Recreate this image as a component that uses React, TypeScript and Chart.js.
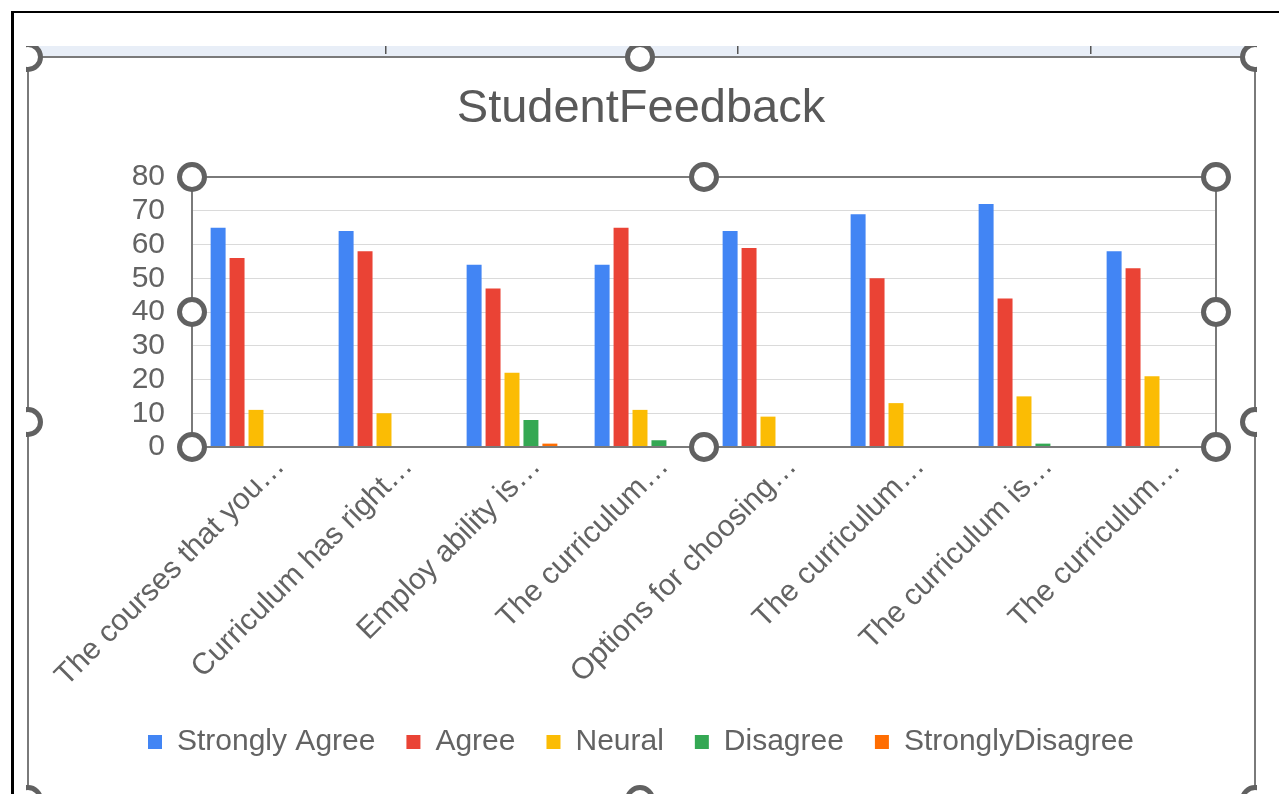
import React, { useEffect, useRef } from 'react';
import { Chart, registerables } from 'chart.js';

Chart.register(...registerables);

const categories = [
  'The courses that you…',
  'Curriculum has right…',
  'Employ ability is…',
  'The curriculum…',
  'Options for choosing…',
  'The curriculum…',
  'The curriculum is…',
  'The curriculum…',
];

const seriesNames = ['Strongly Agree', 'Agree', 'Neural', 'Disagree', 'StronglyDisagree'];
const stronglyAgree = [65, 64, 54, 54, 64, 69, 72, 58];
const agree = [56, 58, 47, 65, 59, 50, 44, 53];
const neural = [11, 10, 22, 11, 9, 13, 15, 21];
const disagree = [0, 0, 8, 2, 0, 0, 1, 0];
const stronglyDisagree = [0, 0, 1, 0, 0, 0, 0, 0];
const seriesColors = ['#4285F4', '#EA4335', '#FBBC04', '#34A853', '#FF6D01'];

const yMin = 0;
const yMax = 80;
const yStep = 10;
const chartTitle = 'StudentFeedback';

const FONT = "'Liberation Sans', Arial, Helvetica, sans-serif";
const TEXT = '#636363';
const HANDLE = '#616161';

function drawHandle(ctx: CanvasRenderingContext2D, x: number, y: number) {
  ctx.beginPath();
  ctx.arc(x, y, 12.5, 0, Math.PI * 2);
  ctx.fillStyle = '#ffffff';
  ctx.fill();
  ctx.lineWidth = 5;
  ctx.strokeStyle = HANDLE;
  ctx.stroke();
}

const decorPlugin = {
  id: 'decor',
  beforeDraw(chart: any) {
    const { ctx, width, height } = chart;
    ctx.save();
    ctx.fillStyle = '#ffffff';
    ctx.fillRect(0, 0, width, height);
    // screenshot frame
    ctx.fillStyle = '#000000';
    ctx.fillRect(11, 11, width - 11, 2);
    ctx.fillRect(11, 11, 3, height - 11);
    // selected chart object frame
    ctx.beginPath();
    ctx.rect(26, 46, 1231, height - 46);
    ctx.clip();
    ctx.fillStyle = '#e8eef7';
    ctx.fillRect(26, 46, 1231, 10);
    ctx.fillStyle = '#555555';
    [385, 737, 1090].forEach((x) => ctx.fillRect(x, 46, 1.5, 8));
    ctx.strokeStyle = '#7a7a7a';
    ctx.lineWidth = 2;
    ctx.beginPath();
    ctx.moveTo(28, height);
    ctx.lineTo(28, 57);
    ctx.lineTo(1255, 57);
    ctx.lineTo(1255, height);
    ctx.stroke();
    [
      [28, 57], [640, 57], [1255, 57],
      [28, 422], [1255, 422],
      [28, 800], [640, 800], [1255, 800],
    ].forEach(([x, y]) => drawHandle(ctx, x, y));
    ctx.restore();
  },
  afterDraw(chart: any) {
    const { ctx, chartArea: a } = chart;
    ctx.save();
    ctx.strokeStyle = '#7a7a7a';
    ctx.lineWidth = 2;
    ctx.strokeRect(a.left, a.top, a.right - a.left, a.bottom - a.top);
    const mx = (a.left + a.right) / 2;
    const my = (a.top + a.bottom) / 2;
    [
      [a.left, a.top], [mx, a.top], [a.right, a.top],
      [a.left, my], [a.right, my],
      [a.left, a.bottom], [mx, a.bottom], [a.right, a.bottom],
    ].forEach(([x, y]) => drawHandle(ctx, x, y));
    ctx.restore();
  },
};

export default function App() {
  const canvasRef = useRef<HTMLCanvasElement | null>(null);

  useEffect(() => {
    if (!canvasRef.current) return;
    const values = [stronglyAgree, agree, neural, disagree, stronglyDisagree];
    const chart = new Chart(canvasRef.current, {
      type: 'bar',
      data: {
        labels: categories,
        datasets: seriesNames.map((name, i) => ({
          label: name,
          data: values[i],
          backgroundColor: seriesColors[i],
          borderWidth: 0,
          categoryPercentage: 0.74,
          barPercentage: 0.79,
        })),
      },
      options: {
        responsive: false,
        animation: false,
        devicePixelRatio: 1,
        layout: { padding: { left: 66, right: 63, top: 0, bottom: 27 } },
        plugins: {
          title: {
            display: true,
            text: chartTitle,
            color: '#595959',
            font: { family: FONT, size: 47, weight: 'normal' },
            padding: { top: 81, bottom: 39.6 },
          },
          legend: {
            position: 'bottom',
            labels: {
              boxWidth: 14,
              boxHeight: 14,
              padding: 31,
              color: TEXT,
              font: { family: FONT, size: 30 },
            },
          },
          tooltip: { enabled: false },
        },
        scales: {
          x: {
            grid: { display: false, drawTicks: false },
            border: { display: false },
            ticks: {
              autoSkip: false,
              maxRotation: 45,
              minRotation: 45,
              padding: 2,
              labelOffset: 24,
              color: TEXT,
              font: { family: FONT, size: 30 },
            },
            afterFit: (s: any) => {
              s.height = 249;
            },
          },
          y: {
            min: yMin,
            max: yMax,
            ticks: {
              stepSize: yStep,
              autoSkip: false,
              padding: 27,
              color: TEXT,
              font: { family: FONT, size: 30 },
            },
            grid: { color: '#dadada', lineWidth: 1, drawTicks: false },
            border: { display: false },
            afterFit: (s: any) => {
              s.width = 126;
            },
          },
        },
      },
      plugins: [decorPlugin],
    });
    return () => chart.destroy();
  }, []);

  return (
    <div style={{ position: 'fixed', left: 0, top: 0, width: 1279, height: 794, background: '#fff' }}>
      <canvas ref={canvasRef} width={1279} height={794} style={{ display: 'block' }} />
    </div>
  );
}
